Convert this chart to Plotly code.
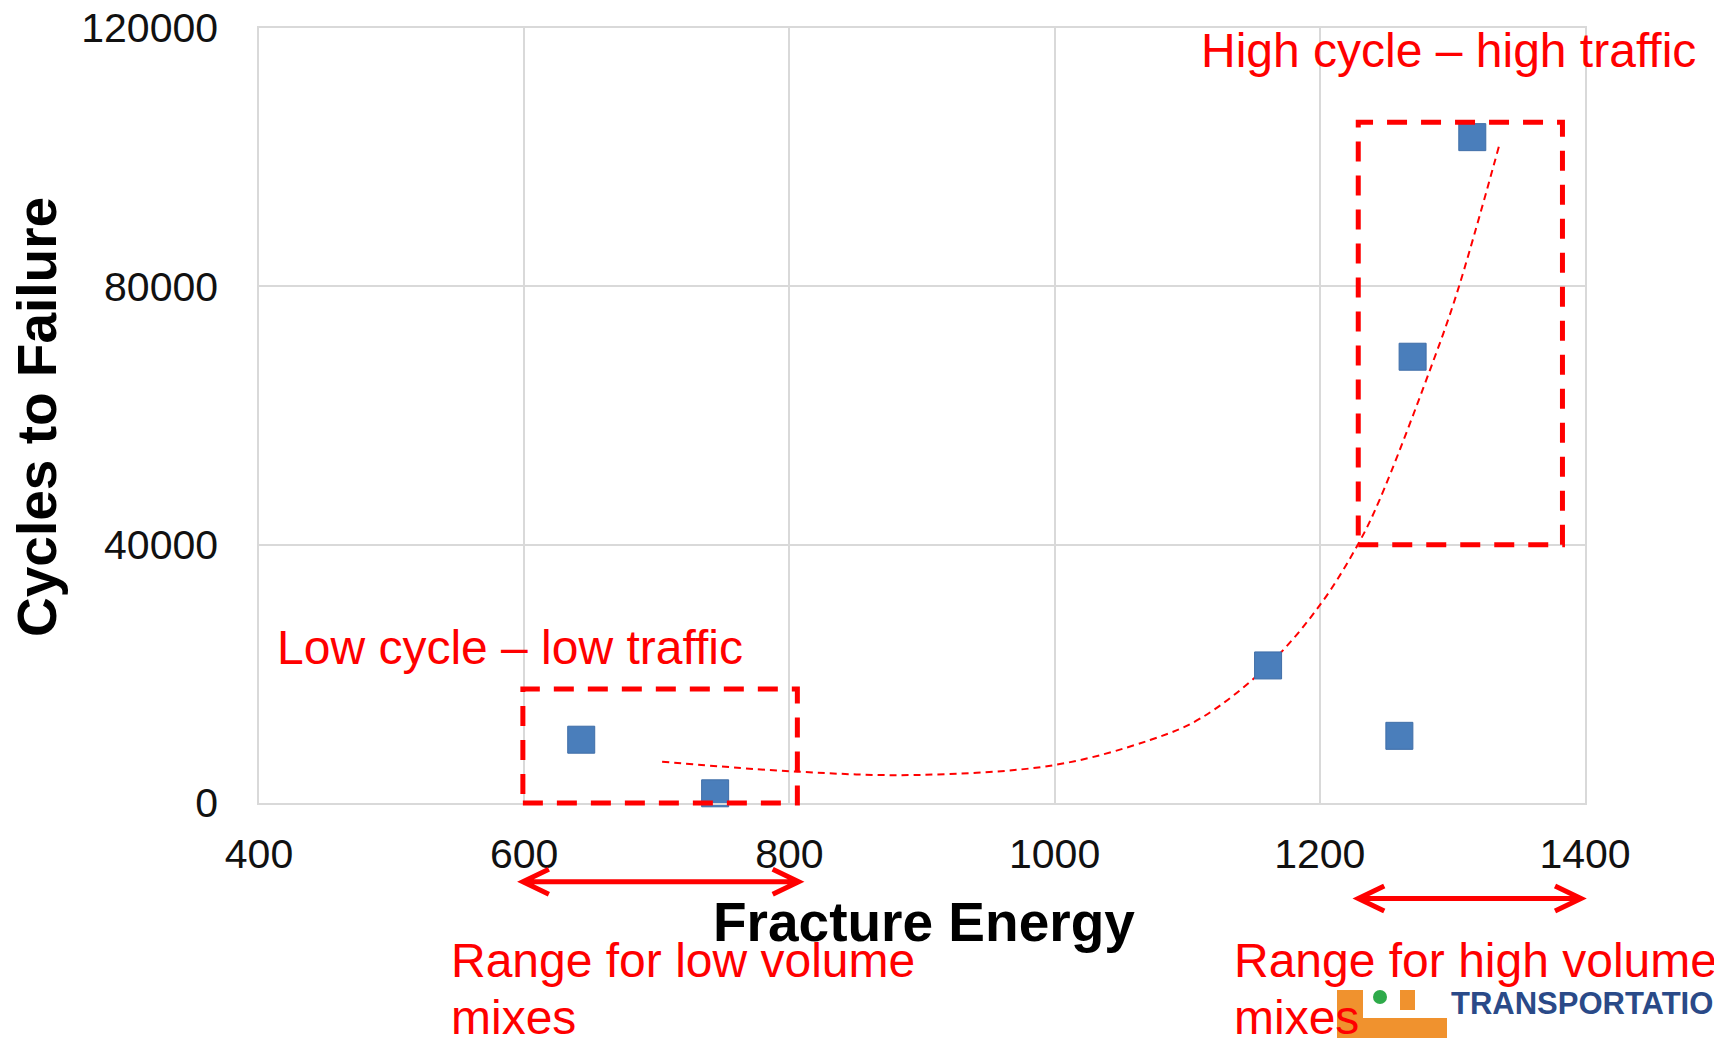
import plotly.graph_objects as go

# ---------------- data ----------------
fracture_energy = [643, 744, 1161, 1260, 1270, 1315]
cycles_to_failure = [9800, 1500, 21300, 10400, 69100, 103100]

# dashed trend curve
trend_energy = [704, 806, 896, 1000, 1072, 1110, 1161, 1201, 1230, 1245, 1283, 1303, 1335]
trend_cycles = [6400, 4850, 4340, 5880, 9760, 13100, 21300, 30900, 40500, 46900, 67000, 78700, 101600]

x_ticks = [400, 600, 800, 1000, 1200, 1400]
y_ticks = [0, 40000, 80000, 120000]
x_tick_labels = [str(v) for v in x_ticks]
y_tick_labels = [str(v) for v in y_ticks]

low_box_energy = [599, 806]
low_box_cycles = [0, 17650]
high_box_energy = [1229, 1383]
high_box_cycles = [40000, 105400]
low_range_energy = [599, 807]
high_range_energy = [1229, 1397]

# ---------------- layout constants ----------------
W, H = 1714, 1038
L, R, T, B = 259, 1585, 28, 803
X_RANGE = [400, 1400]
Y_RANGE = [0, 120000]
FONT = "Liberation Sans, Arial, sans-serif"
RED = "#ff0000"


def xp(v):
    return (v - X_RANGE[0]) / (X_RANGE[1] - X_RANGE[0])


def yp(v):
    return (v - Y_RANGE[0]) / (Y_RANGE[1] - Y_RANGE[0])


def pxx(p):
    return (p - L) / (R - L)


def pxy(p):
    return (B - p) / (B - T)


fig = go.Figure()

fig.add_trace(go.Scatter(
    x=trend_energy, y=trend_cycles, mode="lines",
    line=dict(color=RED, width=2, dash="7px,5px", shape="spline", smoothing=1.0),
    hoverinfo="skip", showlegend=False,
))

fig.add_trace(go.Scatter(
    x=fracture_energy, y=cycles_to_failure, mode="markers",
    marker=dict(symbol="square", size=27, color="#4a7ebb",
                line=dict(color="#3f6ea8", width=1)),
    cliponaxis=False, showlegend=False,
))

shapes = []
box_line = dict(color=RED, width=5, dash="20px,14px")
for ex, cy in [(low_box_energy, low_box_cycles), (high_box_energy, high_box_cycles)]:
    shapes.append(dict(type="rect", xref="paper", yref="paper",
                       x0=xp(ex[0]), x1=xp(ex[1]), y0=yp(cy[0]), y1=yp(cy[1]),
                       line=box_line, fillcolor="rgba(0,0,0,0)", layer="above"))

dx = 26 / (R - L)
dy = 12.5 / (B - T)
for rng, ypix in [(low_range_energy, 881.7), (high_range_energy, 898.5)]:
    a, b = xp(rng[0]), xp(rng[1])
    y = pxy(ypix)
    path = (f"M{a},{y} L{b},{y} "
            f"M{a + dx},{y + dy} L{a},{y} L{a + dx},{y - dy} "
            f"M{b - dx},{y + dy} L{b},{y} L{b - dx},{y - dy}")
    shapes.append(dict(type="path", xref="paper", yref="paper", path=path,
                       line=dict(color=RED, width=5), layer="above"))

# logo fragment at bottom right
ORANGE = "#f0922e"
for x0, x1, y0, y1 in [(1337, 1363, 990, 1045), (1337, 1447, 1018, 1045), (1400, 1415, 990, 1010)]:
    shapes.append(dict(type="rect", xref="paper", yref="paper",
                       x0=pxx(x0), x1=pxx(x1), y0=pxy(y1), y1=pxy(y0),
                       line=dict(width=0), fillcolor=ORANGE, layer="above"))
shapes.append(dict(type="circle", xref="paper", yref="paper",
                   x0=pxx(1373), x1=pxx(1387), y0=pxy(1004), y1=pxy(990),
                   line=dict(width=0), fillcolor="#2eaa4a", layer="above"))

annotations = []


def txt(text, x, y, size, color=RED, bold=False, xanchor="left", angle=0, bg=None):
    a = dict(text=text, xref="paper", yref="paper", x=x, y=y, showarrow=False,
             xanchor=xanchor, yanchor="middle", textangle=angle,
             font=dict(family=FONT, size=size, color=color,
                       weight="bold" if bold else "normal"))
    if bg:
        a["bgcolor"] = bg
    annotations.append(a)


txt("TRANSPORTATION", pxx(1449), pxy(1003), 31, color="#2a4a88", bold=True)
txt("High cycle – high traffic", pxx(1199), pxy(50.5), 48)
txt("Low cycle – low traffic", pxx(275), pxy(647), 48)
txt("Range for low volume", pxx(449), pxy(960), 48)
txt("mixes", pxx(449), pxy(1017), 48)
txt("Range for high volume", pxx(1232), pxy(960), 48, bg="white")
txt("mixes", pxx(1232), pxy(1017), 48)
txt("Cycles to Failure", pxx(37), pxy(417), 55, color="#000000", bold=True, xanchor="center", angle=-90)
txt("Fracture Energy", pxx(924), pxy(922), 55, color="#000000", bold=True, xanchor="center")

axis_common = dict(showgrid=True, gridcolor="#d9d9d9", gridwidth=1.5,
                   showline=True, linecolor="#d9d9d9", linewidth=1.5, mirror=True,
                   zeroline=False, ticks="", automargin=False,
                   tickfont=dict(family=FONT, size=41, color="#111111"))

fig.update_layout(
    width=W, height=H,
    margin=dict(l=L, r=W - R, t=T, b=H - B, autoexpand=False),
    paper_bgcolor="white", plot_bgcolor="white",
    showlegend=False,
    xaxis=dict(range=X_RANGE, tickvals=x_ticks, ticktext=x_tick_labels,
               ticklabelstandoff=14, **axis_common),
    yaxis=dict(range=Y_RANGE, tickvals=y_ticks, ticktext=y_tick_labels,
               ticklabelstandoff=31, **axis_common),
    shapes=shapes,
    annotations=annotations,
)

fig.write_html("out.html")
